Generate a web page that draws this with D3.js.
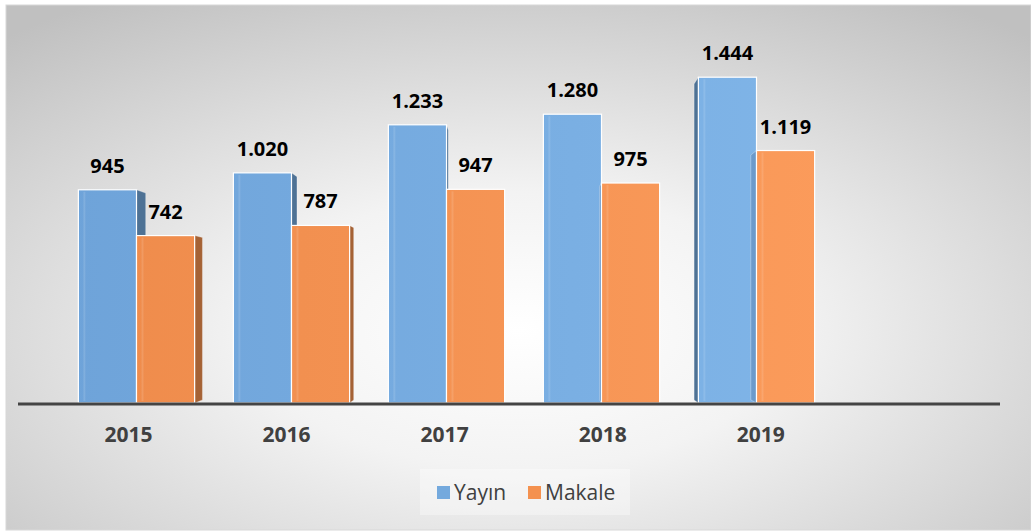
<!DOCTYPE html>
<html>
<head>
<meta charset="utf-8">
<script src="https://cdn.jsdelivr.net/npm/d3@7"></script>
<style>
  html, body { margin: 0; padding: 0; background: #fff; }
  svg { display: block; font-family: "Open Sans", sans-serif; }
</style>
</head>
<body>
<svg id="chart" width="1031" height="531"></svg>
<script>
const years = ["2015", "2016", "2017", "2018", "2019"];
const series = ["Yayın", "Makale"];
const yayin = [945, 1020, 1233, 1280, 1444];
const makale = [742, 787, 947, 975, 1119];
const valueLabels = {
  "Yayın": ["945", "1.020", "1.233", "1.280", "1.444"],
  "Makale": ["742", "787", "947", "975", "1.119"]
};
const colors = {"Yayın": "#74a9dd", "Makale": "#f4914f"};

const svg = d3.select("#chart");
const width = +svg.attr("width");
const height = +svg.attr("height");
const defs = svg.append("defs");

// background with soft radial light
const bg = defs.append("radialGradient").attr("id", "bg")
  .attr("cx", "50%").attr("cy", "62%").attr("r", "75%");
bg.append("stop").attr("offset", "0%").attr("stop-color", "#ffffff");
bg.append("stop").attr("offset", "35%").attr("stop-color", "#f3f3f3");
bg.append("stop").attr("offset", "100%").attr("stop-color", "#c0c0c0");

svg.append("rect")
  .attr("x", 6).attr("y", 5)
  .attr("width", width - 6).attr("height", height - 6)
  .attr("fill", "url(#bg)")
  .attr("stroke", "#d8d8d8").attr("stroke-width", 1);

// bar fill gradients, lighter towards the right
function barGradient(id, c0, c1) {
  const g = defs.append("linearGradient").attr("id", id)
    .attr("gradientUnits", "userSpaceOnUse")
    .attr("x1", 60).attr("x2", 830).attr("y1", 0).attr("y2", 0);
  g.append("stop").attr("offset", "0%").attr("stop-color", c0);
  g.append("stop").attr("offset", "100%").attr("stop-color", c1);
}
barGradient("g-Yayın", "#6ea3d9", "#80b5e8");
barGradient("g-Makale", "#ee8b4b", "#fb9b5b");

const baseY = 403;
const x = d3.scaleBand().domain(years).range([59, 834])
  .paddingInner(0.25).paddingOuter(0.125);
const x1 = d3.scaleBand().domain(series).range([0, x.bandwidth()]);
const y = d3.scaleLinear().domain([0, 1600]).range([baseY, 42]);

const data = years.map((yr, i) => ({year: yr, "Yayın": yayin[i], "Makale": makale[i]}));

// simple perspective for the 3D side faces
const vx = 520, vy = 300, depth = 0.024, shrink = 0.97;

const bars = svg.append("g");
series.forEach(s => {
  data.forEach(d => {
    const x0 = x(d.year) + x1(s);
    const x2 = x0 + x1.bandwidth();
    const top = y(d[s]);
    // side face towards the vanishing point
    const rightSide = x0 + x1.bandwidth() / 2 < vx;
    const edge = rightSide ? x2 : x0;
    const off = (vx - edge) * depth;
    const backTop = vy + (top - vy) * shrink;
    const backBot = vy + (baseY - vy) * shrink;
    let sideFill = d3.color(colors[s]).darker(1.1).formatHex();
    if (s === "Makale" && !rightSide) sideFill = "rgba(40,70,110,0.22)";
    if (Math.abs(off) > 0.6) {
      bars.append("path")
        .attr("d", `M${edge},${top} L${edge + off},${backTop} L${edge + off},${backBot} L${edge},${baseY} Z`)
        .attr("fill", sideFill)
        .attr("stroke", "rgba(255,255,255,0.5)").attr("stroke-width", 0.6);
    }
    bars.append("rect")
      .attr("x", x0).attr("y", top)
      .attr("width", x1.bandwidth()).attr("height", baseY - top)
      .attr("fill", `url(#g-${s})`)
      .attr("stroke", "#ffffff").attr("stroke-width", 1.2);
    bars.append("line")
      .attr("x1", x0 + 6).attr("x2", x0 + 6)
      .attr("y1", top + 2).attr("y2", baseY - 2)
      .attr("stroke", "rgba(255,255,255,0.12)").attr("stroke-width", 2);
  });
});

// value labels
series.forEach(s => {
  svg.append("g").selectAll("text")
    .data(data)
    .join("text")
    .attr("x", d => x(d.year) + x1(s) + x1.bandwidth() / 2)
    .attr("y", d => y(d[s]) - 17)
    .attr("text-anchor", "middle")
    .attr("font-size", 20).attr("font-weight", 700)
    .attr("fill", "#000")
    .text((d, i) => valueLabels[s][i]);
});

// axis line
svg.append("line")
  .attr("x1", 18).attr("x2", 1000)
  .attr("y1", baseY + 1).attr("y2", baseY + 1)
  .attr("stroke", "#444").attr("stroke-width", 3);

// category labels (slightly shifted by the 3D floor)
svg.append("g").selectAll("text")
  .data(years)
  .join("text")
  .attr("x", d => {
    const c = x(d) + x.bandwidth() / 2;
    return c + (c - 540) * 0.02;
  })
  .attr("y", 442)
  .attr("text-anchor", "middle")
  .attr("font-size", 21).attr("font-weight", 700)
  .attr("fill", "#404040")
  .text(d => d);

// legend
const legend = svg.append("g");
legend.append("rect")
  .attr("x", 420).attr("y", 469).attr("width", 210).attr("height", 46)
  .attr("fill", "rgba(255,255,255,0.35)");
const legendX = [437, 528];
series.forEach((s, i) => {
  legend.append("rect")
    .attr("x", legendX[i]).attr("y", 486)
    .attr("width", 13).attr("height", 13)
    .attr("fill", colors[s]);
  legend.append("text")
    .attr("x", legendX[i] + 17).attr("y", 500)
    .attr("font-size", 21)
    .attr("fill", "#404040")
    .text(s);
});
</script>
</body>
</html>
